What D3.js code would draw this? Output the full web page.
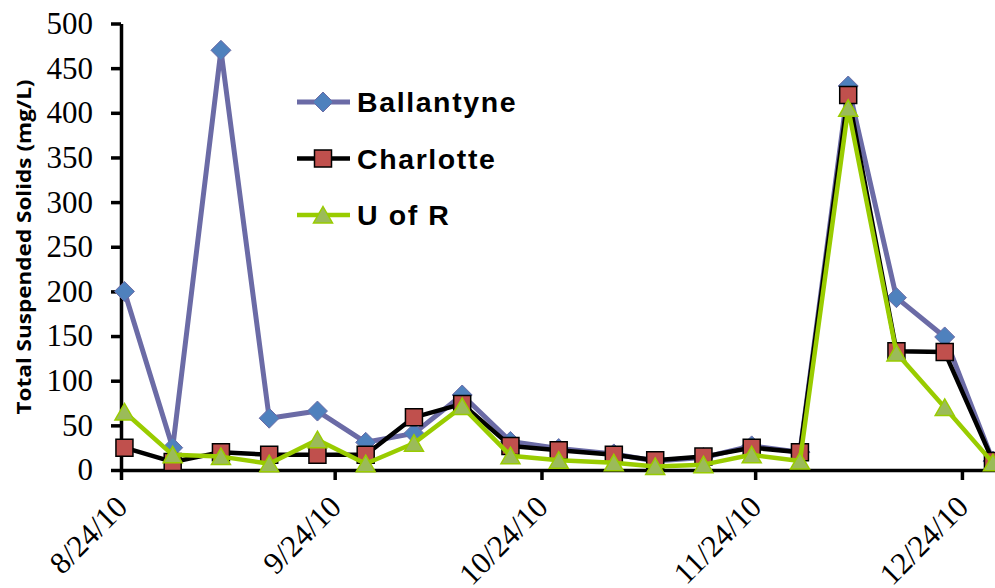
<!DOCTYPE html>
<meta charset="utf-8">
<script src="https://d3js.org/d3.v7.min.js"></script>
<style>
  body { margin: 0; background: #fff; }
  .axis text { font-family: "Liberation Serif", "Times New Roman", "DejaVu Serif", serif; font-size: 31px; fill: #000; }
</style>
<div id="chart"></div>
<script>

// sampling dates and readings (mg/L)
var dates = ["2010-08-24", "2010-08-31", "2010-09-07", "2010-09-14", "2010-09-21",
             "2010-09-28", "2010-10-05", "2010-10-12", "2010-10-19", "2010-10-26",
             "2010-11-03", "2010-11-09", "2010-11-16", "2010-11-23", "2010-11-30",
             "2010-12-07", "2010-12-14", "2010-12-21", "2010-12-28"];
var ballantyne = [200, 25, 470, 58, 66, 31, 41, 84, 32, 24, 18, 10, 14, 27, 20, 430, 193, 149, 10];
var charlotte  = [25, 9, 20, 17, 17, 17, 59, 74, 27, 22, 17, 11, 15, 25, 20, 420, 133, 132, 10];
var uofr       = [65, 17, 15, 7, 34, 7, 30, 71, 16, 11, 8, 4, 6, 17, 10, 405, 131, 70, 8];

var xTicks = ["2010-08-24", "2010-09-24", "2010-10-24", "2010-11-24", "2010-12-24"];
var yTicks = [0, 50, 100, 150, 200, 250, 300, 350, 400, 450, 500];

var width = 995, height = 588;

var parse = d3.utcParse("%Y-%m-%d");
var fmt = d3.utcFormat("%-m/%-d/%y");

var svg = d3.select("#chart")
  .append("svg")
    .attr("width", width)
    .attr("height", height);

var x = d3.scaleUtc()
    .domain([parse("2010-08-24"), parse("2010-12-29")])
    .range([121, 996.4]);

var y = d3.scaleLinear()
    .domain([0, 500])
    .range([470, 23.5]);

// points sit in the middle of their day
function px(i) { return x(d3.utcHour.offset(parse(dates[i]), 12)); }

// Y axis
var gy = svg.append("g")
    .attr("class", "axis")
    .attr("transform", "translate(121,0)")
    .call(d3.axisLeft(y).tickValues(yTicks).tickSize(10).tickSizeOuter(0).tickPadding(18));
gy.attr("font-family", "Liberation Serif").attr("font-size", 31);
gy.select(".domain").attr("stroke-width", 3.5);
gy.selectAll(".tick line").attr("stroke-width", 3.5);

// X axis
var gx = svg.append("g")
    .attr("class", "axis")
    .attr("transform", "translate(0,470)")
    .call(d3.axisBottom(x).tickValues(xTicks.map(parse)).tickFormat(fmt).tickSize(10).tickSizeOuter(0));
gx.attr("font-family", "Liberation Serif").attr("font-size", 31);
gx.select(".domain").attr("stroke-width", 3.5);
gx.selectAll(".tick line").attr("stroke-width", 3.5);
gx.selectAll(".tick text")
    .attr("x", 0).attr("y", 0).attr("dy", "0.35em")
    .attr("text-anchor", "end")
    .attr("transform", "translate(0,31) rotate(-45)");

// Y axis title
svg.append("text")
    .attr("transform", "translate(31,247) rotate(-90)")
    .attr("text-anchor", "middle")
    .attr("textLength", 335)
    .attr("lengthAdjust", "spacingAndGlyphs")
    .style("font-family", "'Open Sans', sans-serif")
    .style("font-weight", "bold")
    .style("font-size", "20px")
    .text("Total Suspended Solids (mg/L)");

// marker shapes
var diamond = "M0,-10L10,0L0,10L-10,0Z";
var square = "M-8.5,-8.5H8.5V8.5H-8.5Z";
var triangle = "M0,-8.5L9.5,8L-9.5,8Z";

var series = [
  {name: "Ballantyne", values: ballantyne, line: "#6B6BA6", lw: 5, shape: diamond, fill: "#4F81BD", stroke: "#6B6BA6", sw: 1},
  {name: "Charlotte", values: charlotte, line: "#000", lw: 4.5, shape: square, fill: "#C0504D", stroke: "#000", sw: 1.5},
  {name: "U of R", values: uofr, line: "#99CC00", lw: 4.5, shape: triangle, fill: "#9BBB59", stroke: "#99CC00", sw: 1.5}
];

var line = d3.line()
    .x(function(d, i) { return px(i); })
    .y(function(d) { return y(d); });

series.forEach(function(s) {
  svg.append("path")
      .datum(s.values)
      .attr("fill", "none")
      .attr("stroke", s.line)
      .attr("stroke-width", s.lw)
      .attr("stroke-linejoin", "round")
      .attr("d", line);
  svg.selectAll(null)
      .data(s.values)
      .enter()
      .append("path")
        .attr("d", s.shape)
        .attr("transform", function(d, i) { return "translate(" + px(i) + "," + y(d) + ")"; })
        .attr("fill", s.fill)
        .attr("stroke", s.stroke)
        .attr("stroke-width", s.sw);
});

// Handmade legend
series.forEach(function(s, i) {
  var ly = 102 + i * 56.5;
  svg.append("line").attr("x1", 297).attr("x2", 350).attr("y1", ly).attr("y2", ly)
      .attr("stroke", s.line).attr("stroke-width", s.lw);
  svg.append("path").attr("d", s.shape).attr("transform", "translate(323," + ly + ")")
      .attr("fill", s.fill).attr("stroke", s.stroke).attr("stroke-width", s.sw);
  svg.append("text").attr("x", 357).attr("y", ly).attr("dy", "0.36em")
      .text(s.name)
      .style("font-family", "'Liberation Sans', Arial, sans-serif")
      .style("font-weight", "bold")
      .style("font-size", "28.5px")
      .style("letter-spacing", "1.6px");
});
</script>
